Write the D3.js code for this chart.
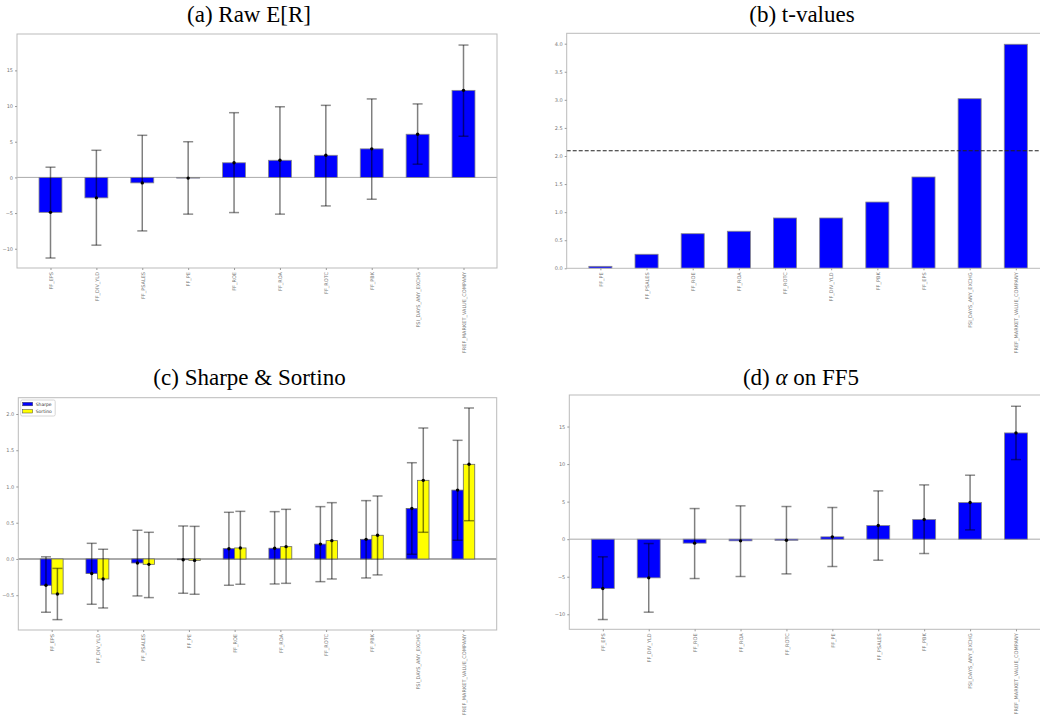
<!DOCTYPE html>
<html lang="en">
<head>
<meta charset="utf-8">
<title>Factor results</title>
<script src="https://cdn.jsdelivr.net/npm/d3@7"></script>
<style>
  body { margin: 0; background: #fff; }
  svg { display: block; }
  .tick text { font-family: "DejaVu Sans", sans-serif; font-size: 5px; fill: #777; }
</style>
</head>
<body>
<script>
// (a) raw expected return
var labelsA = ["FF_EPS", "FF_DIV_YLD", "FF_PSALES", "FF_PE", "FF_ROE", "FF_ROA", "FF_ROTC", "FF_PBK", "FSI_DAYS_ANY_EXCHG", "FREF_MARKET_VALUE_COMPANY"];
var meanA = [-4.9, -2.87, -0.77, -0.1, 2.05, 2.4, 3.1, 4.0, 6.05, 12.2];
var lowA  = [-11.3, -9.5, -7.5, -5.15, -4.93, -5.15, -4.0, -3.06, 1.85, 5.77];
var highA = [1.43, 3.8, 5.9, 5.0, 9.07, 9.9, 10.1, 11.0, 10.3, 18.55];

// (b) t-values
var labelsB = ["FF_PE", "FF_PSALES", "FF_ROE", "FF_ROA", "FF_ROTC", "FF_DIV_YLD", "FF_PBK", "FF_EPS", "FSI_DAYS_ANY_EXCHG", "FREF_MARKET_VALUE_COMPANY"];
var tvalB = [0.035, 0.25, 0.616, 0.66, 0.896, 0.896, 1.18, 1.626, 3.02, 3.99];
var tCrit = 2.094;

// (c) Sharpe & Sortino
var labelsC = ["FF_EPS", "FF_DIV_YLD", "FF_PSALES", "FF_PE", "FF_ROE", "FF_ROA", "FF_ROTC", "FF_PBK", "FSI_DAYS_ANY_EXCHG", "FREF_MARKET_VALUE_COMPANY"];
var sharpe    = [-0.363, -0.2, -0.055, -0.01, 0.142, 0.148, 0.205, 0.271, 0.697, 0.95];
var sharpeLo  = [-0.735, -0.625, -0.51, -0.473, -0.363, -0.345, -0.313, -0.262, 0.065, 0.258];
var sharpeHi  = [0.03, 0.216, 0.396, 0.455, 0.644, 0.653, 0.722, 0.805, 1.328, 1.637];
var sortino   = [-0.483, -0.276, -0.074, -0.02, 0.152, 0.17, 0.253, 0.327, 1.085, 1.306];
var sortinoLo = [-0.837, -0.676, -0.533, -0.487, -0.349, -0.336, -0.276, -0.22, 0.368, 0.528];
var sortinoHi = [-0.13, 0.134, 0.368, 0.45, 0.657, 0.685, 0.777, 0.869, 1.807, 2.083];

// (d) alpha on FF5
var labelsD = ["FF_EPS", "FF_DIV_YLD", "FF_ROE", "FF_ROA", "FF_ROTC", "FF_PE", "FF_PSALES", "FF_PBK", "FSI_DAYS_ANY_EXCHG", "FREF_MARKET_VALUE_COMPANY"];
var alphaD  = [-6.57, -5.15, -0.53, -0.22, -0.15, 0.31, 1.82, 2.62, 4.88, 14.15];
var alphaLo = [-10.7, -9.72, -5.24, -4.97, -4.62, -3.64, -2.8, -1.91, 1.24, 10.6];
var alphaHi = [-2.35, -0.58, 4.08, 4.44, 4.35, 4.22, 6.43, 7.23, 8.52, 17.7];

var w = 1040, h = 715;

var svg = d3.select("body").append("svg")
  .attr("width", w)
  .attr("height", h);

svg.append("rect").attr("width", w).attr("height", h).attr("fill", "#fff");

function drawPanel(p) {
  var g = svg.append("g");

  var x = d3.scaleLinear().domain([-0.73, 9.73]).range([p.left, p.right]);
  var y = d3.scaleLinear().domain(p.ydom).range([p.bottom, p.top]);
  var unit = x(1) - x(0);

  //title
  var t = svg.append("text")
    .attr("x", p.tx)
    .attr("y", p.ty)
    .attr("text-anchor", "middle")
    .style("font-family", "'Liberation Serif'")
    .style("font-size", "23px")
    .attr("fill", "#000");
  p.title.forEach(function(part) {
    t.append("tspan")
      .style("font-style", part[1] ? "italic" : "normal")
      .text(part[0]);
  });

  //zero line
  if (p.zero) {
    g.append("line")
      .attr("x1", p.left).attr("x2", p.right)
      .attr("y1", y(0)).attr("y2", y(0))
      .attr("stroke", "#aaa")
      .attr("stroke-width", p.zeroW || 1.2);
  }

  p.series.forEach(function(s) {
    var bw = s.width * unit;
    g.selectAll(null)
      .data(s.values)
      .enter()
      .append("rect")
      .attr("x", function(d, i) { return x(i + s.offset) - bw / 2; })
      .attr("y", function(d) { return y(Math.max(0, d)); })
      .attr("width", bw)
      .attr("height", function(d) { return Math.abs(y(d) - y(0)); })
      .attr("fill", s.color)
      .attr("stroke", s.edge)
      .attr("stroke-width", 0.8);
  });

  p.series.forEach(function(s) {
    if (!s.lo) return;
    var eb = g.selectAll(null)
      .data(s.values)
      .enter()
      .append("g");
    eb.append("line")
      .attr("x1", function(d, i) { return x(i + s.offset); })
      .attr("x2", function(d, i) { return x(i + s.offset); })
      .attr("y1", function(d, i) { return y(s.lo[i]); })
      .attr("y2", function(d, i) { return y(s.hi[i]); })
      .attr("stroke", "#000").attr("stroke-opacity", 0.5).attr("stroke-width", 1.5);
    [s.lo, s.hi].forEach(function(arr) {
      eb.append("line")
        .attr("x1", function(d, i) { return x(i + s.offset) - 5; })
        .attr("x2", function(d, i) { return x(i + s.offset) + 5; })
        .attr("y1", function(d, i) { return y(arr[i]); })
        .attr("y2", function(d, i) { return y(arr[i]); })
        .attr("stroke", "#000").attr("stroke-opacity", 0.45).attr("stroke-width", 1.5);
    });
    eb.append("circle")
      .attr("cx", function(d, i) { return x(i + s.offset); })
      .attr("cy", function(d) { return y(d); })
      .attr("r", 1.7)
      .attr("fill", "#000");
  });

  if (p.hline != null) {
    g.append("line")
      .attr("x1", p.left).attr("x2", p.right)
      .attr("y1", y(p.hline)).attr("y2", y(p.hline))
      .attr("stroke", "#222")
      .attr("stroke-width", 1.1)
      .attr("stroke-dasharray", "4,2");
  }

  //frame
  g.append("rect")
    .attr("x", p.left).attr("y", p.top)
    .attr("width", p.right - p.left).attr("height", p.bottom - p.top)
    .attr("fill", "none")
    .attr("stroke", "#bbb")
    .attr("stroke-width", 1);

  //axes
  var xAxis = d3.axisBottom(x)
    .tickValues(d3.range(p.labels.length))
    .tickFormat(function(d) { return p.labels[d]; })
    .tickSize(2).tickPadding(2);
  var xg = g.append("g")
    .attr("class", "axis")
    .attr("transform", "translate(0," + p.bottom + ")")
    .call(xAxis);
  xg.select(".domain").remove();
  xg.selectAll(".tick line").attr("stroke", "#999");
  xg.selectAll(".tick text")
    .attr("transform", "rotate(-90)")
    .attr("text-anchor", "end")
    .attr("x", -4)
    .attr("y", 0)
    .attr("dy", "0.35em");

  var yAxis = d3.axisLeft(y)
    .tickValues(p.yticks)
    .tickFormat(d3.format(p.yfmt))
    .tickSize(2).tickPadding(2);
  var yg = g.append("g")
    .attr("class", "axis")
    .attr("transform", "translate(" + p.left + ",0)")
    .call(yAxis);
  yg.select(".domain").remove();
  yg.selectAll(".tick line").attr("stroke", "#999");

  return { g: g, x: x, y: y };
}

drawPanel({
  title: [["(a) Raw E[R]", false]], tx: 249, ty: 22,
  left: 17, right: 497, top: 34, bottom: 268,
  ydom: [-12.7, 20.1], yticks: [-10, -5, 0, 5, 10, 15], yfmt: "d",
  labels: labelsA, zero: true, zeroW: 1,
  series: [{ values: meanA, lo: lowA, hi: highA, color: "#0000ff", edge: "#888", offset: 0, width: 0.5 }]
});

drawPanel({
  title: [["(b) t-values", false]], tx: 802, ty: 22,
  left: 566.7, right: 1049.5, top: 33.3, bottom: 268.3,
  ydom: [0, 4.185], yticks: [0, 0.5, 1, 1.5, 2, 2.5, 3, 3.5, 4], yfmt: ".1f",
  labels: labelsB, zero: false, hline: tCrit,
  series: [{ values: tvalB, color: "#0000ff", edge: "#888", offset: 0, width: 0.5 }]
});

var pc = drawPanel({
  title: [["(c) Sharpe & Sortino", false]], tx: 249.5, ty: 384.5,
  left: 18.3, right: 496.7, top: 397.7, bottom: 630,
  ydom: [-0.98, 2.225], yticks: [-0.5, 0, 0.5, 1, 1.5, 2], yfmt: ".1f",
  labels: labelsC, zero: true, zeroW: 2,
  series: [
    { values: sharpe, lo: sharpeLo, hi: sharpeHi, color: "#0000ff", edge: "#666", offset: -0.125, width: 0.25 },
    { values: sortino, lo: sortinoLo, hi: sortinoHi, color: "#ffff00", edge: "#666", offset: 0.125, width: 0.25 }
  ]
});

//legend for (c)
var leg = pc.g.append("g").attr("transform", "translate(20.7,400)");
leg.append("rect")
  .attr("width", 34.5).attr("height", 16).attr("rx", 1.5)
  .attr("fill", "#fff").attr("stroke", "#ccc").attr("stroke-width", 0.8);
var legItems = [["Sharpe", "#0000ff"], ["Sortino", "#ffff00"]];
legItems.forEach(function(it, i) {
  leg.append("rect")
    .attr("x", 2).attr("y", 2.3 + i * 7.2)
    .attr("width", 10).attr("height", 3.5)
    .attr("fill", it[1]).attr("stroke", "#444").attr("stroke-width", 0.5);
  leg.append("text")
    .attr("x", 15).attr("y", 5.6 + i * 7.2)
    .attr("font-family", "DejaVu Sans, sans-serif")
    .attr("font-size", "4.5px")
    .attr("fill", "#333")
    .text(it[0]);
});

drawPanel({
  title: [["(d) ", false], ["α", true], [" on FF5", false]], tx: 801, ty: 384.5,
  left: 569.3, right: 1049.5, top: 395, bottom: 629.3,
  ydom: [-12.0, 19.2], yticks: [-10, -5, 0, 5, 10, 15], yfmt: "d",
  labels: labelsD, zero: true, zeroW: 1,
  series: [{ values: alphaD, lo: alphaLo, hi: alphaHi, color: "#0000ff", edge: "#888", offset: 0, width: 0.5 }]
});
</script>
</body>
</html>
